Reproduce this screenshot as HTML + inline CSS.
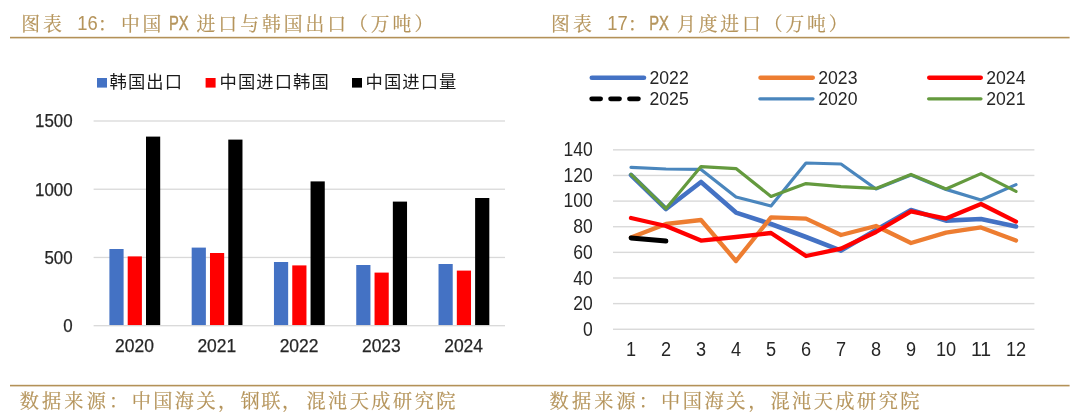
<!DOCTYPE html>
<html lang="zh-CN"><head><meta charset="utf-8"><title>PX 进口图表</title>
<style>html,body{margin:0;padding:0;background:#fff;}body{width:1080px;height:417px;overflow:hidden;}svg{display:block;}.kai{font-family:"Liberation Serif","Noto Serif CJK SC",serif;fill:#b5945b;stroke:#b5945b;stroke-width:0.2px;}.lat{font-family:"Liberation Sans","Noto Sans CJK SC",sans-serif;fill:#b5945b;}.num{font-family:"Liberation Sans",sans-serif;fill:#262626;stroke:#262626;stroke-width:0.25px;}.num2{font-family:"Liberation Sans",sans-serif;fill:#262626;}.cjk{font-family:"Liberation Sans","Noto Sans CJK SC",sans-serif;fill:#1a1a1a;}</style></head><body>
<svg width="1080" height="417" viewBox="0 0 1080 417">
<rect width="1080" height="417" fill="#fff"/>
<rect x="10" y="36.8" width="1059.6" height="1.6" fill="#b39158"/>
<rect x="10" y="384.8" width="1059.6" height="1.6" fill="#b39158"/>
<text class="kai"><tspan class="kai" x="21.20" y="30.60" font-size="18.80" letter-spacing="3.10">图表</tspan> <tspan class="lat" stroke="#b5945b" stroke-width="0.05" letter-spacing="0" x="77.30" y="30.20" font-size="20.50" textLength="20.40" lengthAdjust="spacingAndGlyphs">16</tspan><tspan class="kai" x="98.00" y="30.60" font-size="18.80" letter-spacing="0.00">：</tspan><tspan class="kai" x="121.00" y="30.60" font-size="18.80" letter-spacing="2.80">中国</tspan> <tspan class="lat" stroke="#b5945b" stroke-width="0.45" letter-spacing="0" x="168.90" y="30.20" font-size="20.50" textLength="19.60" lengthAdjust="spacingAndGlyphs">PX</tspan> <tspan class="kai" x="196.60" y="30.60" font-size="18.80" letter-spacing="3.00">进口与韩国出口（万吨）</tspan></text>
<text class="kai"><tspan class="kai" x="551.10" y="30.60" font-size="18.80" letter-spacing="3.20">图表</tspan> <tspan class="lat" stroke="#b5945b" stroke-width="0.05" letter-spacing="0" x="607.30" y="30.20" font-size="20.50" textLength="20.40" lengthAdjust="spacingAndGlyphs">17</tspan><tspan class="kai" x="628.00" y="30.60" font-size="18.80" letter-spacing="0.00">：</tspan> <tspan class="lat" stroke="#b5945b" stroke-width="0.45" letter-spacing="0" x="649.20" y="30.20" font-size="20.50" textLength="19.60" lengthAdjust="spacingAndGlyphs">PX</tspan> <tspan class="kai" x="677.00" y="30.60" font-size="18.80" letter-spacing="2.90">月度进口（万吨）</tspan></text>
<text class="kai"><tspan class="kai" x="19.80" y="407.50" font-size="19.20" letter-spacing="3.10">数据来源：</tspan><tspan class="kai" x="131.70" y="407.50" font-size="19.20" letter-spacing="2.40">中国海关，</tspan><tspan class="kai" x="240.40" y="407.50" font-size="19.20" letter-spacing="1.60">钢联，</tspan><tspan class="kai" x="306.40" y="407.50" font-size="19.20" letter-spacing="2.47">混沌天成研究院</tspan></text>
<text class="kai"><tspan class="kai" x="549.60" y="407.50" font-size="19.20" letter-spacing="3.10">数据来源：</tspan><tspan class="kai" x="661.00" y="407.50" font-size="19.20" letter-spacing="2.60">中国海关，</tspan><tspan class="kai" x="770.40" y="407.50" font-size="19.20" letter-spacing="2.47">混沌天成研究院</tspan></text>
<rect x="93.60" y="256.82" width="411.40" height="1.3" fill="#d9d9d9"/>
<rect x="93.60" y="188.59" width="411.40" height="1.3" fill="#d9d9d9"/>
<rect x="93.60" y="120.36" width="411.40" height="1.3" fill="#d9d9d9"/>
<text class="num" x="63.20" y="332.10" font-size="18.8" textLength="9.40" lengthAdjust="spacingAndGlyphs">0</text>
<text class="num" x="44.40" y="263.87" font-size="18.8" textLength="28.20" lengthAdjust="spacingAndGlyphs">500</text>
<text class="num" x="35.00" y="195.64" font-size="18.8" textLength="37.60" lengthAdjust="spacingAndGlyphs">1000</text>
<text class="num" x="35.00" y="127.41" font-size="18.8" textLength="37.60" lengthAdjust="spacingAndGlyphs">1500</text>
<rect x="109.40" y="249.00" width="14.2" height="76.70" fill="#4472c4"/>
<rect x="127.70" y="256.40" width="14.2" height="69.30" fill="#ff0000"/>
<rect x="146.00" y="136.60" width="14.2" height="189.10" fill="#000000"/>
<rect x="191.68" y="247.60" width="14.2" height="78.10" fill="#4472c4"/>
<rect x="209.98" y="253.00" width="14.2" height="72.70" fill="#ff0000"/>
<rect x="228.28" y="139.60" width="14.2" height="186.10" fill="#000000"/>
<rect x="273.96" y="262.00" width="14.2" height="63.70" fill="#4472c4"/>
<rect x="292.26" y="265.40" width="14.2" height="60.30" fill="#ff0000"/>
<rect x="310.56" y="181.40" width="14.2" height="144.30" fill="#000000"/>
<rect x="356.24" y="265.00" width="14.2" height="60.70" fill="#4472c4"/>
<rect x="374.54" y="272.60" width="14.2" height="53.10" fill="#ff0000"/>
<rect x="392.84" y="201.60" width="14.2" height="124.10" fill="#000000"/>
<rect x="438.52" y="264.00" width="14.2" height="61.70" fill="#4472c4"/>
<rect x="456.82" y="270.60" width="14.2" height="55.10" fill="#ff0000"/>
<rect x="475.12" y="198.00" width="14.2" height="127.70" fill="#000000"/>
<rect x="93.60" y="325.05" width="411.40" height="1.3" fill="#d9d9d9"/>
<text class="num" x="115.10" y="352.2" font-size="18.8" textLength="38.80" lengthAdjust="spacingAndGlyphs">2020</text>
<text class="num" x="197.38" y="352.2" font-size="18.8" textLength="38.80" lengthAdjust="spacingAndGlyphs">2021</text>
<text class="num" x="279.66" y="352.2" font-size="18.8" textLength="38.80" lengthAdjust="spacingAndGlyphs">2022</text>
<text class="num" x="361.94" y="352.2" font-size="18.8" textLength="38.80" lengthAdjust="spacingAndGlyphs">2023</text>
<text class="num" x="444.22" y="352.2" font-size="18.8" textLength="38.80" lengthAdjust="spacingAndGlyphs">2024</text>
<rect x="97.00" y="78" width="10" height="9.6" fill="#4472c4"/>
<rect x="205.60" y="78" width="10" height="9.6" fill="#ff0000"/>
<rect x="352.00" y="78" width="10" height="9.6" fill="#000000"/>
<text class="cjk" x="109.60" y="88.3" font-size="17.3" letter-spacing="1.1">韩国出口</text>
<text class="cjk" x="219.60" y="88.3" font-size="17.3" letter-spacing="1.1">中国进口韩国</text>
<text class="cjk" x="365.60" y="88.3" font-size="17.3" letter-spacing="1.1">中国进口量</text>
<rect x="613.00" y="328.55" width="421.40" height="1.4" fill="#d9d9d9"/>
<text class="num2" x="583.05" y="336.10" font-size="19.6" textLength="9.75" lengthAdjust="spacingAndGlyphs">0</text>
<rect x="613.00" y="302.92" width="421.40" height="1.4" fill="#d9d9d9"/>
<text class="num2" x="573.30" y="310.35" font-size="19.6" textLength="19.50" lengthAdjust="spacingAndGlyphs">20</text>
<rect x="613.00" y="277.29" width="421.40" height="1.4" fill="#d9d9d9"/>
<text class="num2" x="573.30" y="284.60" font-size="19.6" textLength="19.50" lengthAdjust="spacingAndGlyphs">40</text>
<rect x="613.00" y="251.66" width="421.40" height="1.4" fill="#d9d9d9"/>
<text class="num2" x="573.30" y="258.85" font-size="19.6" textLength="19.50" lengthAdjust="spacingAndGlyphs">60</text>
<rect x="613.00" y="226.03" width="421.40" height="1.4" fill="#d9d9d9"/>
<text class="num2" x="573.30" y="233.10" font-size="19.6" textLength="19.50" lengthAdjust="spacingAndGlyphs">80</text>
<rect x="613.00" y="200.40" width="421.40" height="1.4" fill="#d9d9d9"/>
<text class="num2" x="563.55" y="207.35" font-size="19.6" textLength="29.25" lengthAdjust="spacingAndGlyphs">100</text>
<rect x="613.00" y="174.77" width="421.40" height="1.4" fill="#d9d9d9"/>
<text class="num2" x="563.55" y="181.60" font-size="19.6" textLength="29.25" lengthAdjust="spacingAndGlyphs">120</text>
<rect x="613.00" y="149.14" width="421.40" height="1.4" fill="#d9d9d9"/>
<text class="num2" x="563.55" y="155.85" font-size="19.6" textLength="29.25" lengthAdjust="spacingAndGlyphs">140</text>
<text class="num2" x="625.95" y="356.2" font-size="19.6" textLength="10.10" lengthAdjust="spacingAndGlyphs">1</text>
<text class="num2" x="660.95" y="356.2" font-size="19.6" textLength="10.10" lengthAdjust="spacingAndGlyphs">2</text>
<text class="num2" x="695.95" y="356.2" font-size="19.6" textLength="10.10" lengthAdjust="spacingAndGlyphs">3</text>
<text class="num2" x="730.95" y="356.2" font-size="19.6" textLength="10.10" lengthAdjust="spacingAndGlyphs">4</text>
<text class="num2" x="765.95" y="356.2" font-size="19.6" textLength="10.10" lengthAdjust="spacingAndGlyphs">5</text>
<text class="num2" x="800.95" y="356.2" font-size="19.6" textLength="10.10" lengthAdjust="spacingAndGlyphs">6</text>
<text class="num2" x="835.95" y="356.2" font-size="19.6" textLength="10.10" lengthAdjust="spacingAndGlyphs">7</text>
<text class="num2" x="870.95" y="356.2" font-size="19.6" textLength="10.10" lengthAdjust="spacingAndGlyphs">8</text>
<text class="num2" x="905.95" y="356.2" font-size="19.6" textLength="10.10" lengthAdjust="spacingAndGlyphs">9</text>
<text class="num2" x="935.90" y="356.2" font-size="19.6" textLength="20.20" lengthAdjust="spacingAndGlyphs">10</text>
<text class="num2" x="970.90" y="356.2" font-size="19.6" textLength="20.20" lengthAdjust="spacingAndGlyphs">11</text>
<text class="num2" x="1005.90" y="356.2" font-size="19.6" textLength="20.20" lengthAdjust="spacingAndGlyphs">12</text>
<polyline points="631.0,175.0 666.0,209.0 701.0,182.0 736.0,212.6 771.0,224.0 806.0,237.0 841.0,250.6 876.0,230.0 911.0,210.0 946.0,220.6 981.0,219.0 1016.0,226.4" fill="none" stroke="#4472c4" stroke-width="4.6" stroke-linecap="round" stroke-linejoin="round"/>
<polyline points="631.0,237.4 666.0,224.0 701.0,220.0 736.0,261.0 771.0,217.4 806.0,218.6 841.0,235.0 876.0,226.0 911.0,243.0 946.0,232.6 981.0,227.4 1016.0,240.6" fill="none" stroke="#ed7d31" stroke-width="4.3" stroke-linecap="round" stroke-linejoin="round"/>
<polyline points="631.0,218.0 666.0,226.0 701.0,240.6 736.0,237.0 771.0,233.0 806.0,256.0 841.0,248.6 876.0,232.0 911.0,211.4 946.0,218.6 981.0,204.0 1016.0,221.6" fill="none" stroke="#ff0000" stroke-width="4.3" stroke-linecap="round" stroke-linejoin="round"/>
<polyline points="631.0,238.0 666.0,241.0" fill="none" stroke="#000000" stroke-width="4.8" stroke-linecap="round" stroke-linejoin="round"/>
<polyline points="631.0,167.4 666.0,169.0 701.0,169.4 736.0,197.0 771.0,206.0 806.0,163.0 841.0,164.0 876.0,189.0 911.0,175.0 946.0,189.4 981.0,200.0 1016.0,184.6" fill="none" stroke="#4a86bd" stroke-width="3.2" stroke-linecap="round" stroke-linejoin="round"/>
<polyline points="631.0,174.4 666.0,208.6 701.0,166.6 736.0,168.6 771.0,196.4 806.0,183.6 841.0,186.6 876.0,188.4 911.0,174.4 946.0,189.0 981.0,173.6 1016.0,191.4" fill="none" stroke="#649a3e" stroke-width="3.2" stroke-linecap="round" stroke-linejoin="round"/>
<line x1="591.85" y1="77.75" x2="643.95" y2="77.75" stroke="#4472c4" stroke-width="4.7" stroke-linecap="round"/>
<text class="num2" x="649.50" y="84.25" font-size="18.8" textLength="39.2" lengthAdjust="spacingAndGlyphs">2022</text>
<line x1="760.40" y1="77.75" x2="812.85" y2="77.75" stroke="#ed7d31" stroke-width="4.3" stroke-linecap="round"/>
<text class="num2" x="818.25" y="84.25" font-size="18.8" textLength="39.2" lengthAdjust="spacingAndGlyphs">2023</text>
<line x1="929.15" y1="77.75" x2="980.85" y2="77.75" stroke="#ff0000" stroke-width="4.3" stroke-linecap="round"/>
<text class="num2" x="986.25" y="84.25" font-size="18.8" textLength="39.2" lengthAdjust="spacingAndGlyphs">2024</text>
<line x1="591.70" y1="98.85" x2="638.80" y2="98.85" stroke="#000000" stroke-width="4.8" stroke-linecap="round" stroke-dasharray="8.9 10.0"/>
<text class="num2" x="649.50" y="105.35" font-size="18.8" textLength="39.2" lengthAdjust="spacingAndGlyphs">2025</text>
<line x1="759.85" y1="98.85" x2="813.00" y2="98.85" stroke="#4a86bd" stroke-width="3.2" stroke-linecap="round"/>
<text class="num2" x="818.25" y="105.35" font-size="18.8" textLength="39.2" lengthAdjust="spacingAndGlyphs">2020</text>
<line x1="928.60" y1="98.85" x2="981.00" y2="98.85" stroke="#649a3e" stroke-width="3.2" stroke-linecap="round"/>
<text class="num2" x="986.25" y="105.35" font-size="18.8" textLength="39.2" lengthAdjust="spacingAndGlyphs">2021</text>
</svg></body></html>
